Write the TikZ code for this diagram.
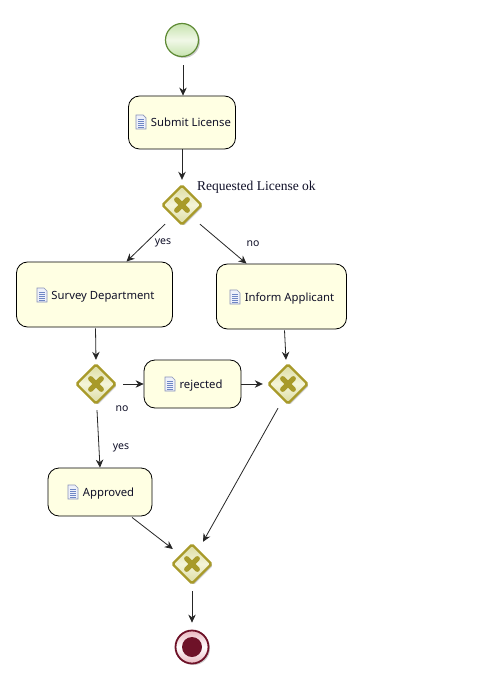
\documentclass[tikz,border=0pt]{standalone}
\usepackage{fontspec}
\setmainfont{Noto Sans}
\newfontfamily\labelserif{Liberation Serif}
\usetikzlibrary{arrows.meta,shapes.geometric,shadows}
\definecolor{taskfill}{HTML}{FFFFE3}
\definecolor{gwline}{HTML}{A89A2A}
\definecolor{gwfillA}{HTML}{DCDCA2}
\definecolor{gwfillB}{HTML}{F4F4D8}
\definecolor{inktext}{HTML}{101028}
\definecolor{startline}{HTML}{5E8A34}
\definecolor{startfillA}{HTML}{C6E3AE}
\definecolor{startfillB}{HTML}{F1F8E8}
\definecolor{endline}{HTML}{6E1228}
\definecolor{endfill}{HTML}{E9B7BF}
\definecolor{iconline}{HTML}{8A93B8}
\definecolor{iconfill}{HTML}{EEF1FA}
\definecolor{iconrule}{HTML}{6F86C4}
\tikzset{
  softshadow/.style={drop shadow={shadow xshift=1.5pt,shadow yshift=-1.5pt,opacity=.2,fill=black}},
  task/.style={draw=black,line width=.8pt,fill=taskfill,rounded corners=11pt,inner sep=0pt,
    font=\fontsize{11.3}{13}\selectfont,text=inktext},
  gateway/.style={diamond,draw=gwline,line width=2.4pt,minimum width=40pt,minimum height=40pt,inner sep=0pt,
    rounded corners=1.5pt,top color=gwfillA,bottom color=gwfillA,middle color=gwfillB,softshadow},
  gwcross/.style={draw=gwline,line width=5.2pt,line cap=round},
  startevent/.style={circle,draw=startline,line width=1.2pt,minimum size=33pt,inner sep=0pt,
    top color=startfillA,bottom color=startfillA,middle color=startfillB,softshadow},
  endevent/.style={circle,draw=endline,line width=1.8pt,minimum size=33pt,inner sep=0pt,
    top color=endfill,bottom color=endfill,middle color=white,softshadow},
  enddot/.style={circle,fill=endline,draw=none,minimum size=20pt,inner sep=0pt},
  flow/.style={draw=black!85,line width=.8pt,-{Stealth[length=8pt,width=7.5pt]}},
  flowlabel/.style={font=\fontsize{10.5}{12}\selectfont,text=inktext,inner sep=0pt},
  serlabel/.style={font=\fontsize{13.5}{15}\selectfont\labelserif,text=inktext,inner sep=0pt},
  pics/docicon/.style={code={
    \draw[draw=iconline,fill=iconfill,line width=.7pt]
      (-5,-7) -- (2,-7) -- (5,-4) -- (5,7) -- (-5,7) -- cycle;
    \foreach \yy in {-3,-1,1,3,5}{\draw[draw=iconrule,line width=.6pt] (-3,\yy) -- (3,\yy);}
  }},
}
\newcommand{\gwx}[1]{%
  \draw[gwcross] ([shift={(-5.3,-5.3)}]#1.center) -- ([shift={(5.3,5.3)}]#1.center);
  \draw[gwcross] ([shift={(-5.3,5.3)}]#1.center) -- ([shift={(5.3,-5.3)}]#1.center);}
\newcommand{\tasktext}[2]{\smash{\raisebox{-4.5pt}{\hspace{#1}#2}}}
\begin{document}
\begin{tikzpicture}[x=1pt,y=-1pt]
\useasboundingbox (0,0) rectangle (495,692);
\fill[white] (0,0) rectangle (495,692);

\node[startevent] (start) at (182,40) {};

\node[task,minimum width=107pt,minimum height=53pt] (submit) at (182,122.5) {\tasktext{18pt}{Submit License}};
\pic at (141,122) {docicon};

\node[gateway] (gwa) at (182,205) {};
\gwx{gwa}
\node[serlabel,anchor=west] (reqlabel) at (197,187) {Requested License ok};

\node[task,minimum width=156pt,minimum height=65pt] (survey) at (94.5,294.5) {\tasktext{17pt}{Survey Department}};
\pic at (42,295) {docicon};

\node[task,minimum width=130pt,minimum height=65pt] (inform) at (281.5,296.5) {\tasktext{16pt}{Inform Applicant}};
\pic at (235,297) {docicon};

\node[gateway] (gwb) at (96,384) {};
\gwx{gwb}

\node[task,minimum width=97pt,minimum height=48pt] (rejected) at (192.5,384) {\tasktext{17pt}{rejected}};
\pic at (170,384) {docicon};

\node[gateway] (gwc) at (288,384) {};
\gwx{gwc}

\node[task,minimum width=104pt,minimum height=48pt] (approved) at (100,492) {\tasktext{17pt}{Approved}};
\pic at (73,492) {docicon};

\node[gateway] (gwd) at (192,564) {};
\gwx{gwd}

\node[endevent] (endev) at (192,647) {};
\node[enddot] (enddisc) at (192,647) {};

\node[flowlabel] (lblyesa) at (163,243) {yes};
\node[flowlabel] (lblnoa) at (253,244) {no};
\node[flowlabel] (lblnob) at (122,409) {no};
\node[flowlabel] (lblyesb) at (121,448) {yes};

\draw[flow] ([shift={(1,8)}]start.south) -- ([shift={(1,0)}]submit.north);
\draw[flow] (submit.south) -- ([shift={(0,-4)}]gwa.north);
\draw[flow] ([shift={(-17,-2)}]gwa.south) -- ([shift={(32,0)}]survey.north);
\draw[flow] ([shift={(18,-2)}]gwa.south) -- ([shift={(-35,0)}]inform.north);
\draw[flow] ([shift={(1,1)}]survey.south) -- ([shift={(0,-3)}]gwb.north);
\draw[flow] ([shift={(3,1)}]inform.south) -- ([shift={(-2,-3)}]gwc.north);
\draw[flow] ([shift={(6,0)}]gwb.east) -- (rejected.west);
\draw[flow] (rejected.east) -- ([shift={(-4,0)}]gwc.west);
\draw[flow] ([shift={(1,5)}]gwb.south) -- (approved.north);
\draw[flow] ([shift={(-10,3)}]gwc.south) -- ([shift={(11,-1)}]gwd.north);
\draw[flow] ([shift={(32,1)}]approved.south) -- ([shift={(2,-15)}]gwd.west);
\draw[flow] ([shift={(0,6)}]gwd.south) -- ([shift={(0,-7)}]endev.north);
\end{tikzpicture}
\end{document}
